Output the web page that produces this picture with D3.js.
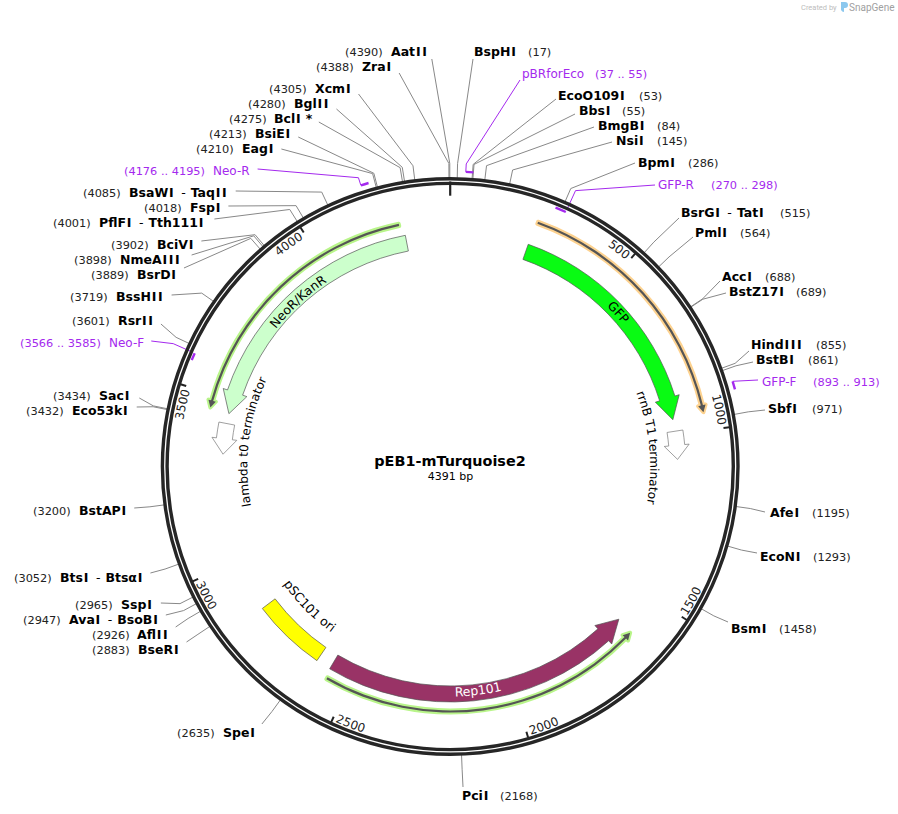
<!DOCTYPE html>
<html>
<head>
<meta charset="utf-8">
<title>pEB1-mTurquoise2</title>
<script src="https://cdn.jsdelivr.net/npm/d3@7"></script>
<style>
  html, body { margin: 0; padding: 0; background: #fff; }
  svg { display: block; font-family: "DejaVu Sans", sans-serif; }
</style>
</head>
<body>
<div id="map"></div>
<script>
const plasmidName = 'pEB1-mTurquoise2';
const plasmidLength = 4391;
const tickValues = [500, 1000, 1500, 2000, 2500, 3000, 3500, 4000];

// Restriction sites
const siteNames = ['BspHI', 'EcoO109I', 'BbsI', 'BmgBI', 'NsiI', 'BpmI', 'BsrGI - TatI', 'PmlI', 'AccI', 'BstZ17I',
  'HindIII', 'BstBI', 'SbfI', 'AfeI', 'EcoNI', 'BsmI', 'PciI', 'SpeI', 'BseRI', 'AflII', 'AvaI - BsoBI', 'SspI',
  'BtsI - BtsαI', 'BstAPI', 'Eco53kI', 'SacI', 'RsrII', 'BssHII', 'BsrDI', 'NmeAIII', 'BciVI', 'PflFI - Tth111I',
  'FspI', 'BsaWI - TaqII', 'EagI', 'BsiEI', 'BclI *', 'BglII', 'XcmI', 'ZraI', 'AatII'];
const sitePositions = [17, 53, 55, 84, 145, 286, 515, 564, 688, 689,
  855, 861, 971, 1195, 1293, 1458, 2168, 2635, 2883, 2926, 2947, 2965,
  3052, 3200, 3432, 3434, 3601, 3719, 3889, 3898, 3902, 4001,
  4018, 4085, 4210, 4213, 4275, 4280, 4305, 4388, 4390];

// Where each site label sits: name x, "(pos)" x, middle y, leader y offset, leader gap
const siteLabelLayout = [
  [474, 528, 52, 7, 1], [558, 639, 96, 3, 2], [579, 622, 111, 3, 4], [598, 657, 126, 1, 4], [616, 657, 141, 1, 4],
  [638, 688, 163, 0, 3], [681, 780, 213, 5, 2], [695, 740, 233, 4, 2], [722, 765, 277, 4, 2], [729, 796, 292, 1, 3],
  [751, 816, 345, 6, 2], [756, 808, 360, 2, 3], [768, 812, 409, 1, 3], [770, 812, 513, -1, 5], [760, 813, 557, -4, 3],
  [731, 779, 629, -7, 3], [462, 500, 796, -9, -1], [223, 177, 733, -9, 7], [138, 92, 650, -8, 8], [137, 92, 635, -8, 8],
  [69, 23, 620, -5, 8], [121, 75, 605, -2, 9], [60, 14, 578, -5, 8], [79, 33, 511, -3, 8], [72, 26, 411, -4, 9],
  [99, 53, 396, 2, 10], [118, 72, 321, 3, 8], [116, 70, 297, -2, 9], [137, 91, 275, -7, 8], [120, 74, 260, -5, 12],
  [157, 111, 245, -4, 8], [99, 53, 223, -4, 11], [190, 144, 208, -2, 8], [129, 83, 193, -2, 9], [242, 196, 149, 0, 8],
  [255, 209, 134, 3, 8], [274, 229, 119, 3, 6], [294, 248, 104, 5, 8], [315, 269, 89, 5, 8], [362, 316, 67, 6, 8],
  [391, 345, 52, 7, 5]
];

// Primers
const primerNames = ['pBRforEco', 'GFP-R', 'GFP-F', 'Neo-F', 'Neo-R'];
const primerStarts = [37, 270, 893, 3566, 4176];
const primerEnds = [55, 298, 913, 3585, 4195];
const primerStrands = [1, -1, 1, -1, 1];
const primerLabelLayout = [
  [522, 595, 74, 6, 2], [658, 711, 185, 0, 3], [762, 813, 382, -2, 4], [109, 20, 343, -2, 7], [213, 124, 171, -2, 8]
];

// Features on the inner track, written tail bp -> tip bp
const featureNames = ['GFP', 'NeoR/KanR', 'Rep101', 'rrnB T1 terminator', 'lambda t0 terminator', 'pSC101 ori'];
const featureTails = [236, 4257, 2571, 989, 3426, 2616];
const featureTips = [953, 3457, 1612, 1076, 3331, 2841];
const featureFills = ['#09fb13', '#ccffcc', '#993366', '#ffffff', '#ffffff', '#ffff00'];
const featureLabelBp = [579, 3870, 2109, 1031, 3380, 2747];
const featureLabelRadius = [224, 222, 230, 200, 203, 204];
const featureLabelFills = ['#000', '#000', '#fff', '#000', '#000', '#000'];

// ORF arrows
const orfTails = [241, 4245, 2564];
const orfTips = [950, 3462, 1619];
const orfRadius = [259, 247, 245];
const orfHalos = ['#fdd28f', '#b9f58a', '#b9f58a'];

const width = 898;
const height = 814;
const cx = 450.2;
const cy = 466.5;
const TAU = Math.PI * 2;

const angle = d3.scaleLinear().domain([0, plasmidLength]).range([0, TAU]);
const polar = (r, a) => [cx + r * Math.sin(a), cy - r * Math.cos(a)];

const svg = d3.select('#map').append('svg').attr('width', width).attr('height', height);
const defs = svg.append('defs');

// Arc-shaped arrow. Flat feature when the head length is 0.
function arrowPath(r0, r1, wing0, wing1, tail, tip, headPx) {
  const dir = Math.sign(tip - tail);
  const a0 = angle(tail);
  const a1 = angle(tip);
  const rm = (r0 + r1) / 2;
  const head = Math.min(headPx / rm, Math.abs(a1 - a0) / 2);
  const aNeck = headPx > 0 ? a1 - dir * head : a1;
  const p = d3.path();
  const ccw = dir < 0;
  p.moveTo(...polar(r1, a0));
  p.arc(cx, cy, r1, a0 - Math.PI / 2, aNeck - Math.PI / 2, ccw);
  if (headPx > 0) {
    p.lineTo(...polar(wing1, aNeck));
    p.lineTo(...polar(rm, a1));
    p.lineTo(...polar(wing0, aNeck));
  }
  p.lineTo(...polar(r0, aNeck));
  p.arc(cx, cy, r0, aNeck - Math.PI / 2, a0 - Math.PI / 2, !ccw);
  p.closePath();
  return p.toString();
}

// Text along the backbone. Clockwise keeps the tops of the letters outward.
let arcCount = 0;
function arcText(r, from, to, clockwise, offset, anchor, size, fill, label) {
  const arc = d3.path();
  arc.arc(cx, cy, r, from - Math.PI / 2, to - Math.PI / 2, !clockwise);
  const id = `label-arc-${arcCount++}`;
  defs.append('path').attr('id', id).attr('d', arc.toString());
  svg.append('text')
    .attr('font-size', size)
    .attr('fill', fill)
    .attr('text-anchor', anchor)
    .append('textPath')
    .attr('href', `#${id}`)
    .attr('startOffset', offset)
    .text(label);
}

const labelGroup = svg.append('g');
const leaderGroup = svg.append('g').attr('fill', 'none');

// Capital I is wider in the original face, so give it a little room
function appendName(sel, str, firstDx) {
  let pending = firstDx;
  str.split(/(I)/).filter(Boolean).forEach(part => {
    const isI = part === 'I';
    sel.append('tspan').attr('dx', pending + (isI ? 0.8 : 0)).text(part);
    pending = isI ? 0.8 : 0;
  });
}

function drawLabel(name, posText, layout, color, primer) {
  const [nameX, posX, y] = layout;
  const parts = name.split(' - ');
  const nameText = labelGroup.append('text')
    .attr('x', nameX).attr('y', y + 4)
    .attr('fill', color)
    .attr('font-size', primer ? 12 : 12.5)
    .attr('font-weight', primer ? 'normal' : 'bold');
  appendName(nameText, parts[0], 0);
  if (parts[1]) {
    nameText.append('tspan').attr('dx', 7.5).attr('font-weight', 'normal').text('-');
    appendName(nameText, parts[1], 5);
  }
  labelGroup.append('text')
    .attr('x', posX).attr('y', y + 4)
    .attr('fill', color === '#000' ? '#222' : color)
    .attr('font-size', 11.35)
    .text(posText);
  return nameText.node().getBBox().width;
}

function leaderEnd(layout, w) {
  const [nameX, posX, y, dy, gap] = layout;
  return posX > nameX ? [nameX - gap, y + dy] : [nameX + w + gap, y + dy];
}

// Site leaders: radial stub off the ring, then out to the label
siteNames.forEach((name, i) => {
  const layout = siteLabelLayout[i];
  const w = drawLabel(name, `(${sitePositions[i]})`, layout, '#000', false);
  const a = angle(sitePositions[i]);
  const line = d3.line()([polar(288, a), polar(303, a), leaderEnd(layout, w)]);
  leaderGroup.append('path').attr('d', line).attr('stroke', '#888').attr('stroke-width', 1);
});

const primerColor = '#a429ee';
primerNames.forEach((name, i) => {
  const layout = primerLabelLayout[i];
  const forward = primerStrands[i] > 0;
  const w = drawLabel(name, `(${primerStarts[i]} .. ${primerEnds[i]})`, layout, primerColor, true);
  const a = angle(forward ? primerStarts[i] : primerEnds[i]);
  const elbow = name === 'GFP-F' ? 295 : 303;
  leaderGroup.append('path')
    .attr('d', d3.line()([polar(forward ? 295 : 283, a), polar(elbow, a), leaderEnd(layout, w)]))
    .attr('stroke', primerColor).attr('stroke-width', 1);
});

// Backbone
[287.8, 283.1].forEach(r => {
  svg.append('circle').attr('cx', cx).attr('cy', cy).attr('r', r)
    .attr('fill', 'none').attr('stroke', '#262626').attr('stroke-width', 3.4);
});

// Primer bars sit on top of the backbone
primerNames.forEach((name, i) => {
  const barR = primerStrands[i] > 0 ? 295 : 279.5;
  const p = d3.path();
  p.arc(cx, cy, barR, angle(primerStarts[i]) - Math.PI / 2, angle(primerEnds[i]) - Math.PI / 2);
  svg.append('path').attr('d', p.toString()).attr('fill', 'none')
    .attr('stroke', primerColor).attr('stroke-width', 2.4);
});

// Origin tick
svg.append('line')
  .attr('x1', cx).attr('x2', cx).attr('y1', cy - 285).attr('y2', cy - 270.8)
  .attr('stroke', '#222').attr('stroke-width', 2.2);

// Ticks
tickValues.forEach(t => {
  const a = angle(t);
  const [x1, y1] = polar(282, a);
  const [x2, y2] = polar(276, a);
  svg.append('line').attr('x1', x1).attr('y1', y1).attr('x2', x2).attr('y2', y2)
    .attr('stroke', '#222').attr('stroke-width', 2);
  const top = Math.cos(a) > 0 || t === 1000 || t === 3500;
  if (top) {
    arcText(271, a - 0.6 - 0.012, a - 0.012, true, '100%', 'end', 12, '#222', t);
  } else {
    arcText(280, a - 0.012, a - 0.6, false, '0%', 'start', 12, '#222', t);
  }
});

// ORF thin arrows
orfTails.forEach((tail, i) => {
  const r = orfRadius[i];
  const d = arrowPath(r - 1.1, r + 1.1, r - 3.8, r + 3.8, tail, orfTips[i], 7);
  svg.append('path').attr('d', d).attr('fill', orfHalos[i]).attr('stroke', orfHalos[i])
    .attr('stroke-width', 4).attr('stroke-linejoin', 'round');
  svg.append('path').attr('d', d).attr('fill', '#555').attr('stroke', 'none');
});

// Features
featureNames.forEach((name, i) => {
  const isTerminator = name.includes('terminator');
  svg.append('path')
    .attr('d', arrowPath(219.5, 235.5, 215, 240, featureTails[i], featureTips[i], name === 'pSC101 ori' ? 0 : 22))
    .attr('fill', featureFills[i])
    .attr('stroke', isTerminator ? '#777' : '#555')
    .attr('stroke-width', 0.7);

  const clockwise = !['Rep101', 'pSC101 ori'].includes(name);
  const c = angle(featureLabelBp[i]);
  const span = 1.1;
  arcText(featureLabelRadius[i], clockwise ? c - span : c + span, clockwise ? c + span : c - span, clockwise,
    '50%', 'middle', isTerminator ? 12.1 : 12.5, featureLabelFills[i], name);
});

// Centre title
svg.append('text').attr('x', 450).attr('y', 466).attr('text-anchor', 'middle')
  .attr('font-size', 14.4).attr('font-weight', 'bold').attr('fill', '#000').text(plasmidName);
svg.append('text').attr('x', 450.5).attr('y', 480).attr('text-anchor', 'middle')
  .attr('font-size', 11).attr('fill', '#000').text(`${plasmidLength} bp`);

// Created by stamp
svg.append('text').attr('x', 801).attr('y', 10).attr('font-family', 'Roboto, sans-serif')
  .attr('font-size', 7.5).attr('fill', '#bdbdbd').text('Created by');
svg.append('path').attr('d', 'M841,2 h4 q3,0 3,3 q0,3 -3,3 h-1 v4 q-2,0 -3,-2 z').attr('fill', '#8cc8ee');
svg.append('text').attr('x', 849).attr('y', 11).attr('font-family', 'Roboto, sans-serif')
  .attr('font-size', 10).attr('fill', '#a0a0a0').text('SnapGene');
</script>
</body>
</html>
